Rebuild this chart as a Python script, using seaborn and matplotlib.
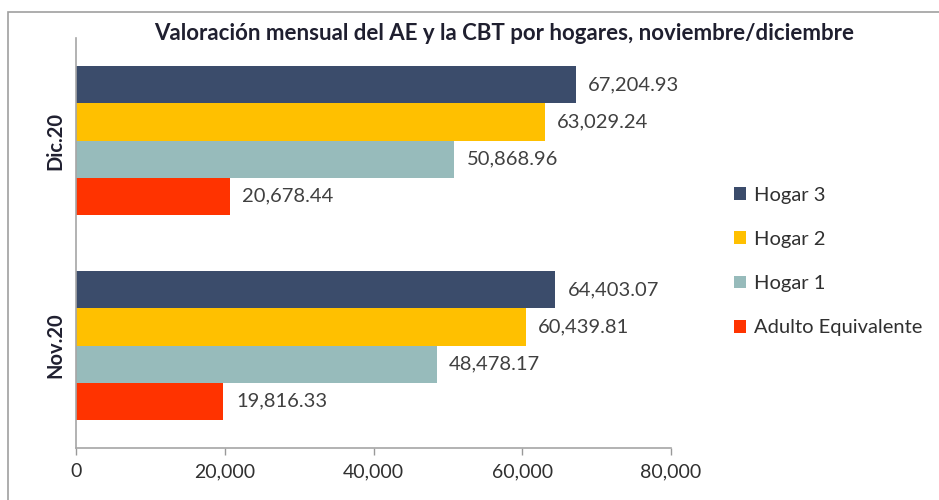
import pandas as pd
import matplotlib.pyplot as plt
import seaborn as sns
from matplotlib.patches import Rectangle

periodos = ['Dic.20', 'Nov.20']
series = ['Hogar 3', 'Hogar 2', 'Hogar 1', 'Adulto Equivalente']
hogar3 = [67204.93, 64403.07]
hogar2 = [63029.24, 60439.81]
hogar1 = [50868.96, 48478.17]
adulto = [20678.44, 19816.33]
colores = ['#3B4C6B', '#FFC000', '#97BBBB', '#FF3300']

rows = []
for s, vals in zip(series, [hogar3, hogar2, hogar1, adulto]):
    for p, v in zip(periodos, vals):
        rows.append({'periodo': p, 'serie': s, 'valor': v})
df = pd.DataFrame(rows)

sns.set_style('white')
plt.rcParams['font.family'] = ['Lato', 'DejaVu Sans']

fig = plt.figure(figsize=(9.39, 5), dpi=100)
ax = fig.add_axes([0.081, 0.104, 0.6336, 0.82])

sns.barplot(data=df, x='valor', y='periodo', hue='serie', order=periodos,
            hue_order=series, palette=colores, orient='h', width=0.725,
            saturation=1, linewidth=0, ax=ax)

# etiquetas de valor al final de cada barra
for cont in ax.containers:
    ax.bar_label(cont, labels=[f'{v:,.2f}' for v in cont.datavalues],
                 padding=9, fontsize=14.5, color='#404040')

ax.set_xlim(0, 80000)
ax.set_xticks([0, 20000, 40000, 60000, 80000])
ax.set_xticklabels(['0', '20,000', '40,000', '60,000', '80,000'], fontsize=14, color='#303030')
ax.set_yticks([0, 1])
ax.set_yticklabels(periodos, rotation=90, va='center', fontsize=14.5, fontweight='bold', color='#202030')
ax.set_xlabel('')
ax.set_ylabel('')
ax.tick_params(axis='x', length=5, width=1, color='#999999', pad=6, bottom=True)
ax.tick_params(axis='y', length=0, pad=8)
for side in ['top', 'right']:
    ax.spines[side].set_visible(False)
for side in ['left', 'bottom']:
    ax.spines[side].set_color('#A6A6A6')
    ax.spines[side].set_linewidth(1.2)

leg = ax.legend(loc='center left', bbox_to_anchor=(1.075, 0.455), frameon=False,
                fontsize=14.5, handlelength=0.6, handleheight=0.6,
                labelspacing=1.35, handletextpad=0.4)
for t in leg.get_texts():
    t.set_color('#303030')

fig.text(0.537, 0.934, 'Valoración mensual del AE y la CBT por hogares, noviembre/diciembre',
         ha='center', va='center', fontsize=16, fontweight='bold', color='#1F1F2F')

# marco gris del gráfico
fig.patches.append(Rectangle((0.0085, -0.05), 1.2, 1.026, transform=fig.transFigure,
                             fill=False, edgecolor='#A0A0A0', linewidth=1.2))

fig.savefig('out.png', dpi=100)
